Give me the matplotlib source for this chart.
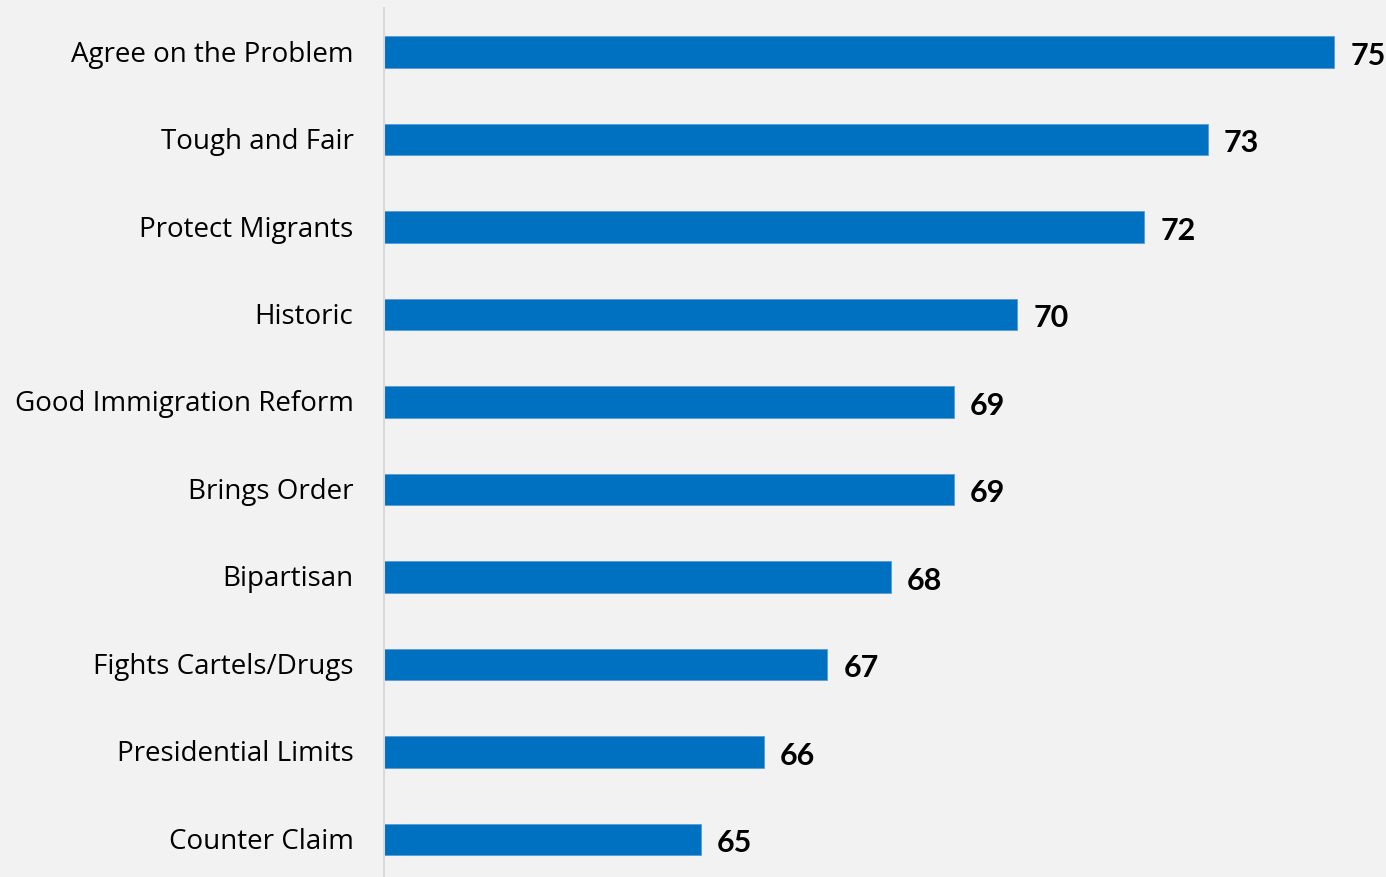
import matplotlib.pyplot as plt
from matplotlib.transforms import ScaledTranslation

categories = ["Agree on the Problem", "Tough and Fair", "Protect Migrants", "Historic",
              "Good Immigration Reform", "Brings Order", "Bipartisan",
              "Fights Cartels/Drugs", "Presidential Limits", "Counter Claim"]
scores = [75, 73, 72, 70, 69, 69, 68, 67, 66, 65]

bg = "#f2f2f2"
bar_color = "#0070c0"

fig = plt.figure(figsize=(13.86, 8.78), dpi=100, facecolor=bg)
ax = fig.add_axes([384 / 1386, 0, 1 - 384 / 1386, 1 - 9 / 878])
ax.set_facecolor(bg)

for side in ["top", "right", "bottom"]:
    ax.spines[side].set_visible(False)
ax.spines["left"].set_color("#d9d9d9")
ax.spines["left"].set_linewidth(1.5)

ypos = list(range(len(categories)))
ax.barh(ypos, [s - 60 for s in scores], left=60, height=0.355,
        color=bar_color, edgecolor="#5b9bd5", linewidth=0.6)

for y, s in zip(ypos, scores):
    ax.annotate(str(s), xy=(s, y), xytext=(11.5, -2), textcoords="offset points",
                ha="left", va="center", fontsize=22, fontweight="bold",
                family="Lato", color="black")

ax.set_xlim(60, 60 + (1386 - 384) / 63.35)
ax.set_ylim((878 - 53) / 87.5, (9 - 53) / 87.5)

ax.set_yticks(ypos)
ax.set_yticklabels(categories, fontsize=20, family="Open Sans", color="black")
ax.tick_params(axis="y", length=0, pad=22)
ax.set_xticks([])

# nudge the category names up a touch
shift = ScaledTranslation(0, 2 / 100, fig.dpi_scale_trans)
for lbl in ax.get_yticklabels():
    lbl.set_transform(lbl.get_transform() + shift)

fig.savefig("out.png", dpi=100, facecolor=bg)
